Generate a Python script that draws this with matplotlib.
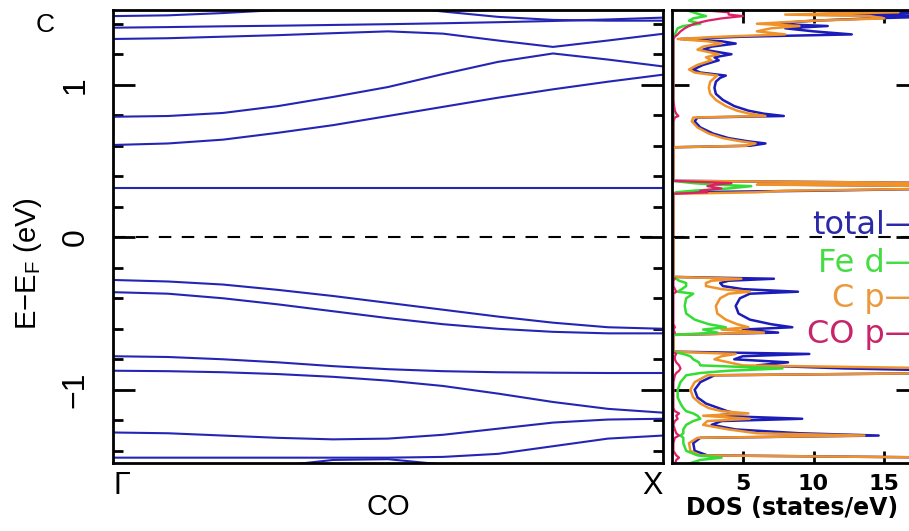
import numpy as np
import matplotlib
matplotlib.use("Agg")
import matplotlib.pyplot as plt
from matplotlib.ticker import MultipleLocator

plt.rcParams["font.family"] = ["Liberation Sans", "DejaVu Sans"]
plt.rcParams["mathtext.fontset"] = "custom"
plt.rcParams["mathtext.rm"] = "Liberation Sans"
plt.rcParams["mathtext.it"] = "Liberation Sans:italic"

# k path Gamma -> X (fraction of the path)
k_path = [0.0, 0.1, 0.2, 0.3, 0.4, 0.5, 0.6, 0.7, 0.8, 0.9, 1.0]

# band energies (eV, relative to E_F) along the path
band_01 = [1.45, 1.455, 1.47, 1.49, 1.52, 1.52, 1.48, 1.445, 1.425, 1.42, 1.42]
band_02 = [1.374, 1.378, 1.383, 1.387, 1.392, 1.397, 1.403, 1.41, 1.418, 1.428, 1.44]
band_03 = [1.30, 1.305, 1.315, 1.325, 1.338, 1.35, 1.335, 1.29, 1.248, 1.29, 1.334]
band_04 = [0.79, 0.795, 0.815, 0.86, 0.92, 0.985, 1.07, 1.15, 1.205, 1.165, 1.12]
band_05 = [0.605, 0.615, 0.64, 0.685, 0.735, 0.795, 0.855, 0.915, 0.97, 1.02, 1.066]
band_06 = [0.32, 0.32, 0.32, 0.32, 0.32, 0.32, 0.32, 0.32, 0.32, 0.32, 0.32]
band_07 = [-0.28, -0.29, -0.31, -0.345, -0.385, -0.43, -0.475, -0.52, -0.56, -0.59, -0.60]
band_08 = [-0.36, -0.37, -0.40, -0.44, -0.485, -0.53, -0.57, -0.60, -0.62, -0.63, -0.63]
band_09 = [-0.78, -0.785, -0.80, -0.82, -0.845, -0.865, -0.878, -0.885, -0.888, -0.89, -0.89]
band_10 = [-0.875, -0.878, -0.885, -0.897, -0.915, -0.94, -0.975, -1.025, -1.08, -1.125, -1.15]
band_11 = [-1.28, -1.285, -1.30, -1.315, -1.325, -1.32, -1.295, -1.255, -1.215, -1.195, -1.19]
band_12 = [-1.445, -1.445, -1.445, -1.445, -1.445, -1.445, -1.44, -1.42, -1.37, -1.32, -1.30]
band_13 = [-1.60, -1.57, -1.54, -1.50, -1.46, -1.455, -1.49, -1.53, -1.56, -1.58, -1.60]
bands = [band_01, band_02, band_03, band_04, band_05, band_06, band_07,
         band_08, band_09, band_10, band_11, band_12, band_13]

# projected DOS (states/eV) on a common energy grid
dos_energy = [1.49, 1.475, 1.46, 1.45, 1.435, 1.42, 1.40, 1.385, 1.37, 1.35,
              1.33, 1.315, 1.30, 1.285, 1.27, 1.25, 1.23, 1.20, 1.18, 1.16,
              1.13, 1.10, 1.08, 1.06, 1.045, 1.02, 0.98, 0.94, 0.90, 0.86,
              0.83, 0.81, 0.795, 0.785, 0.76, 0.72, 0.68, 0.65, 0.63, 0.615,
              0.60, 0.59, 0.37, 0.355, 0.345, 0.335, 0.32, 0.305, 0.295, 0.285,
              -0.26, -0.272, -0.285, -0.30, -0.32, -0.34, -0.357, -0.37, -0.40, -0.45,
              -0.50, -0.54, -0.57, -0.59, -0.605, -0.625, -0.64, -0.75, -0.765, -0.78,
              -0.80, -0.82, -0.84, -0.86, -0.875, -0.89, -0.905, -0.95, -1.00, -1.05,
              -1.09, -1.12, -1.14, -1.155, -1.17, -1.19, -1.205, -1.23, -1.26, -1.285,
              -1.30, -1.315, -1.35, -1.40, -1.43, -1.445, -1.46, -1.49]
dos_total = [8, 20, 9, 20, 14, 10, 7, 11, 8, 10,
             12.7, 5, 0.6, 3.5, 4.5, 2.8, 2.2, 4.2, 3.0, 3.3,
             2.2, 1.5, 2.0, 3.8, 3.4, 3.1, 3.0, 3.1, 3.6, 4.4,
             5.4, 6.5, 7.9, 1.8, 1.6, 2.0, 2.9, 4.0, 5.3, 6.6,
             5.5, 0.1, 0.1, 20, 8, 20, 20, 10, 0.5, 0.1,
             0.1, 7.2, 4.0, 3.4, 3.6, 5.0, 8.9, 5.5, 4.8, 4.5,
             4.7, 5.5, 7.0, 8.5, 5.0, 7.5, 0.1, 0.1, 9.7, 5.0,
             4.4, 8.2, 6.0, 12.2, 20, 20, 3.0, 2.0, 1.6, 1.8,
             2.4, 3.3, 3.9, 4.5, 3.0, 9.2, 3.5, 2.8, 4.5, 9.0,
             14.6, 2.0, 1.5, 1.6, 2.5, 20, 20, 20]
dos_fe_d = [1.0, 1.5, 2.0, 2.4, 1.5, 1.2, 2.0, 0.8, 0.4, 0.3,
            0.2, 0.1, 0.1, 0.1, 0.1, 0.1, 0.1, 0.1, 0.1, 0.1,
            0.1, 0.1, 0.1, 0.1, 0.1, 0.1, 0.1, 0.1, 0.1, 0.1,
            0.1, 0.1, 0.1, 0.1, 0.1, 0.1, 0.1, 0.1, 0.1, 0.1,
            0.1, 0.05, 0.05, 1.5, 3.0, 5.6, 4.0, 1.5, 0.3, 0.05,
            0.05, 0.3, 0.5, 1.0, 1.0, 0.7, 0.4, 1.5, 1.0, 0.9,
            1.0, 1.6, 2.6, 3.8, 2.2, 3.2, 0.05, 0.05, 0.8, 1.3,
            1.5, 1.9, 2.0, 7.8, 4.0, 2.0, 1.0, 0.6, 0.4, 0.4,
            0.6, 0.8, 1.0, 1.5, 1.8, 2.0, 1.5, 1.0, 0.8, 0.8,
            0.6, 0.8, 0.8, 1.0, 1.8, 3.5, 2.0, 1.0]
dos_c_p = [6, 16, 8, 14, 15, 10, 6, 9, 7, 6,
           8, 3.5, 0.4, 2.5, 3.5, 2.2, 1.8, 3.3, 2.4, 2.8,
           1.8, 1.2, 1.6, 3.2, 3.0, 2.7, 2.6, 2.7, 3.1, 3.8,
           4.6, 5.5, 6.6, 1.5, 1.4, 1.8, 2.6, 3.6, 4.8, 5.9,
           5.2, 0.1, 0.1, 20, 6, 20, 20, 8, 6.0, 0.1,
           0.1, 4.9, 2.8, 2.4, 2.4, 3.5, 5.5, 4.0, 3.4, 3.1,
           3.2, 3.8, 4.6, 5.4, 3.5, 6.5, 0.1, 0.1, 4.5, 3.5,
           3.0, 4.0, 5.0, 20, 20, 20, 2.5, 1.6, 1.3, 1.5,
           2.0, 2.6, 3.5, 5.4, 2.2, 5.5, 2.5, 2.2, 4.0, 6.0,
           13.6, 1.8, 1.2, 1.3, 2.0, 20, 20, 20]
dos_co_p = [2.0, 4.0, 4.0, 5.0, 3.5, 2.5, 1.6, 1.2, 0.9, 0.6,
            0.4, 0.2, 0.1, 0.1, 0.1, 0.1, 0.1, 0.1, 0.1, 0.1,
            0.1, 0.1, 0.1, 0.1, 0.1, 0.1, 0.1, 0.1, 0.1, 0.15,
            0.2, 0.3, 0.45, 0.2, 0.1, 0.1, 0.1, 0.1, 0.1, 0.1,
            0.1, 0.05, 0.05, 4.2, 3.0, 2.5, 3.5, 2.0, 2.5, 0.05,
            0.05, 0.2, 0.1, 0.1, 0.1, 0.2, 0.3, 0.1, 0.1, 0.1,
            0.1, 0.1, 0.1, 0.2, 0.1, 0.2, 0.05, 0.05, 0.3, 0.2,
            0.2, 0.3, 0.5, 0.6, 0.5, 0.3, 0.2, 0.1, 0.1, 0.1,
            0.1, 0.1, 0.2, 0.5, 0.3, 0.4, 0.2, 0.1, 0.2, 0.3,
            0.5, 0.2, 0.1, 0.1, 0.3, 0.5, 0.3, 0.2]

legend_labels = ["total\u2014", "Fe d\u2014", "C p\u2014", "CO p\u2014"]
legend_colors = ["#2a2aa8", "#44dd44", "#e99a3c", "#c8246a"]
legend_y = [0.075, -0.17, -0.40, -0.635]

W, H = 909, 531
fig = plt.figure(figsize=(W / 100, H / 100), dpi=100)

ax = fig.add_axes([113 / W, 1 - 463 / H, 550 / W, 453 / H])
ax2 = fig.add_axes([672 / W, 1 - 463 / H, 240.6 / W, 453 / H])

ylim = (-1.48, 1.49)

# band structure
for b in bands:
    ax.plot(k_path, b, color="#2525b5", lw=1.5)
ax.axhline(0, color="black", lw=1.5, ls=(0, (6, 5)))
ax.set_xlim(0, 1)
ax.set_ylim(*ylim)
ax.set_xticks([0, 1])
ax.set_xticklabels(["\u0393", "X"], fontsize=22)
lbls = ax.get_xticklabels()
lbls[0].set_ha("left")
lbls[1].set_ha("right")
ax.tick_params(axis="x", length=0, pad=6)
ax.set_yticks([-1, 0, 1])
ax.set_yticklabels(["\u22121", "0", "1"], rotation=90, va="center", fontsize=23)
ax.yaxis.set_minor_locator(MultipleLocator(0.2))
ax.tick_params(axis="y", which="major", direction="in", length=16, width=2,
               left=True, right=True, pad=16)
ax.tick_params(axis="y", which="minor", direction="in", length=7, width=2,
               left=True, right=True)
ax.set_xlabel("CO", fontsize=21)
ax.xaxis.set_label_coords(0.5, -0.066)
ax.set_ylabel(r"E$-$E$_\mathrm{F}$ (eV)", fontsize=21)
ax.yaxis.set_label_coords(-0.125, 0.44)
for s in ax.spines.values():
    s.set_linewidth(2)

# projected density of states
ax2.plot(dos_total, dos_energy, color="#1c1cb8", lw=1.8)
ax2.plot(dos_c_p, dos_energy, color="#f0922a", lw=1.8)
ax2.plot(dos_fe_d, dos_energy, color="#33dd33", lw=1.8)
ax2.plot(dos_co_p, dos_energy, color="#dd1f66", lw=1.6)
ax2.axhline(0, color="black", lw=1.5, ls=(0, (6, 5)))
ax2.set_xlim(0, 17)
ax2.set_ylim(*ylim)
ax2.set_xticks([5, 10, 15])
ax2.set_xticklabels(["5", "10", "15"], fontsize=16, fontweight="bold",
                    family="DejaVu Sans")
ax2.tick_params(axis="x", direction="in", length=9, width=2, top=True,
                bottom=True, pad=8)
ax2.set_yticks([-1, 0, 1])
ax2.set_yticklabels([])
ax2.tick_params(axis="y", direction="in", length=12, width=2, left=True,
                right=True)
ax2.set_xlabel("DOS (states/eV)", fontsize=17, fontweight="bold",
               family="DejaVu Sans", labelpad=1)
for s in ax2.spines.values():
    s.set_linewidth(2)

for lab, col, yy in zip(legend_labels, legend_colors, legend_y):
    ax2.text(17.3, yy, lab, color=col, fontsize=23, ha="right", va="center",
             family="DejaVu Sans", clip_on=False)

fig.text(45 / W, 1 - 25 / H, "C", fontsize=19, ha="center", va="center")

fig.savefig("out.png", dpi=100)
